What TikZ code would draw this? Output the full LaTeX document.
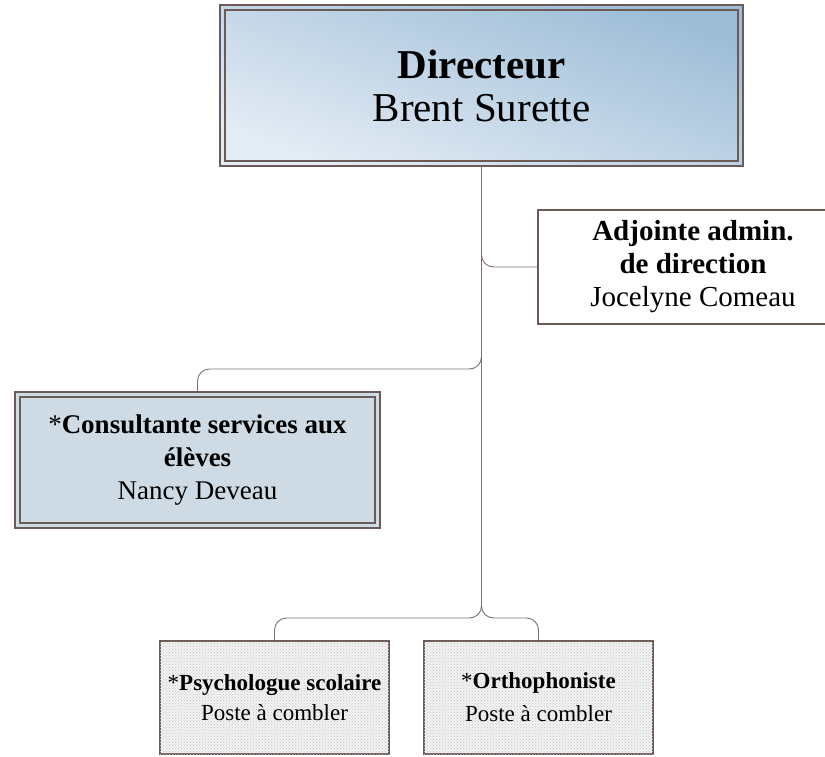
\documentclass[tikz,border=0pt]{standalone}
\usepackage{fontspec}
\setmainfont{Liberation Serif}
\usetikzlibrary{patterns}
\definecolor{boxline}{HTML}{6B5B57}
\definecolor{linkline}{HTML}{7F6E6A}
\definecolor{dirlight}{HTML}{E4ECF5}
\definecolor{dirmid}{HTML}{AFC8DE}
\definecolor{dirdark}{HTML}{9DBDD7}
\definecolor{consfill}{HTML}{CFDBE4}
\tikzset{
  orgbox/.style={draw=boxline, line width=1.7pt, align=center, inner sep=0pt},
  patbox/.style={fill=gray!10, postaction={pattern=crosshatch dots, pattern color=gray!45}},
  link/.style={draw=linkline, line width=0.9pt, rounded corners=12pt},
}
\begin{document}
\begin{tikzpicture}[x=1pt,y=-1pt]
    \useasboundingbox (0,0) rectangle (825,756);
    \clip (0,0) rectangle (825,756);
    \coordinate (consbus) at (0,369);
    \coordinate (bus) at (0,618);

    \node[orgbox, minimum width=523pt, minimum height=161pt, top color=dirdark, middle color=dirmid, bottom color=dirlight, shading angle=-20, font=\fontsize{41}{43}\selectfont] (dir) at (481.5,85.5) {\textbf{Directeur}\\Brent Surette};
    \draw[boxline, line width=1.7pt] ([shift={(6,6)}]dir.north west) rectangle ([shift={(-6,-6)}]dir.south east);

    \node[orgbox, fill=white, minimum width=310pt, minimum height=114pt, font=\fontsize{29}{33}\selectfont] (adj) at (693,267) {\textbf{Adjointe admin.}\\\textbf{de direction}\\Jocelyne Comeau};

    \node[orgbox, fill=consfill, minimum width=365pt, minimum height=136pt, font=\fontsize{27}{33}\selectfont] (cons) at (197.5,460) {*\textbf{Consultante services aux}\\\textbf{élèves}\\Nancy Deveau};
    \draw[boxline, line width=1.7pt] ([shift={(6,6)}]cons.north west) rectangle ([shift={(-6,-6)}]cons.south east);

    \node[orgbox, patbox, minimum width=229pt, minimum height=113pt, font=\fontsize{23}{30}\selectfont] (psy) at (274.5,697.5) {*\textbf{Psychologue scolaire}\\Poste à combler};
    \node[orgbox, patbox, minimum width=229pt, minimum height=113pt, font=\fontsize{23}{33}\selectfont] (ortho) at (538.5,697.5) {*\textbf{Orthophoniste}\\Poste à combler};

    \draw[link] (dir.south) |- (adj.west);
    \draw[link] (dir.south) |- (cons.north |- consbus) -- (cons.north);
    \draw[link] (dir.south) |- (psy.north |- bus) -- (psy.north);
    \draw[link] (dir.south) |- (ortho.north |- bus) -- (ortho.north);
\end{tikzpicture}
\end{document}
